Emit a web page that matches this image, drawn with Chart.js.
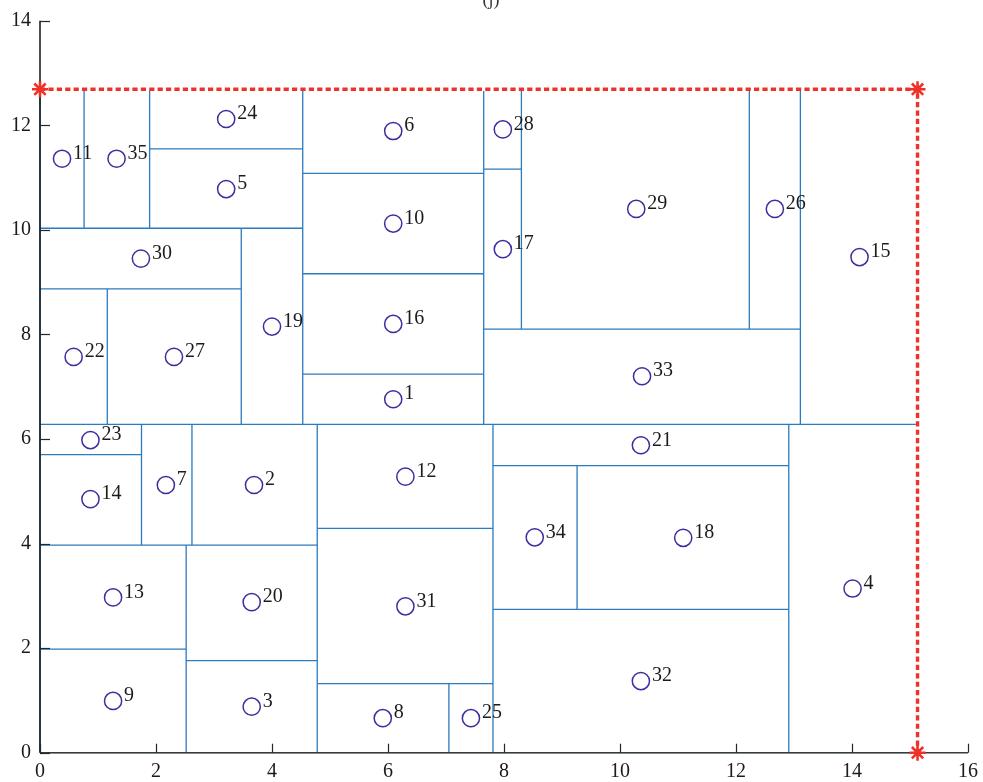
<!DOCTYPE html>
<html>
<head>
<meta charset="utf-8">
<script src="https://cdn.jsdelivr.net/npm/chart.js@4.4.1/dist/chart.umd.min.js"></script>
<style>
  html, body { margin: 0; padding: 0; background: #ffffff; overflow: hidden; }
  #wrap { width: 983px; height: 782px; position: relative; }
  #layout { display: block; width: 983px; height: 782px; }
</style>
</head>
<body>
<div id="wrap"><canvas id="layout" width="983" height="782"></canvas></div>
<script>
// Block numbers and their rectangles (x0..x1, y0..y1)
const blockIds = [1, 2, 3, 4, 5, 6, 7, 8, 9, 10, 11, 12, 13, 14, 15, 16, 17, 18, 19, 20,
                  21, 22, 23, 24, 25, 26, 27, 28, 29, 30, 31, 32, 33, 34, 35];
const blockX0 = [4.53, 2.62, 2.52, 12.91, 1.89, 4.53, 1.75, 4.78, 0, 4.53, 0, 4.78, 0, 0, 13.11, 4.53, 7.65, 9.26, 3.47, 2.52,
                 7.81, 0, 0, 1.89, 7.05, 12.23, 1.16, 7.65, 8.30, 0, 4.78, 7.81, 7.65, 7.81, 0.76];
const blockX1 = [7.65, 4.78, 4.78, 15.13, 4.53, 7.65, 2.62, 7.05, 2.52, 7.65, 0.76, 7.81, 2.52, 1.75, 15.13, 7.65, 8.30, 12.91, 4.53, 4.78,
                 12.91, 1.16, 1.75, 4.53, 7.81, 13.11, 3.47, 8.30, 12.23, 3.47, 7.81, 12.91, 13.11, 9.26, 1.89];
const blockY0 = [6.28, 3.97, 0, 0, 10.03, 11.08, 3.97, 0, 0, 9.16, 10.03, 4.29, 1.98, 3.97, 6.28, 7.24, 8.10, 2.74, 6.28, 1.76,
                 5.49, 6.28, 5.70, 11.55, 0, 8.10, 6.28, 11.16, 8.10, 8.87, 1.32, 0, 6.28, 2.74, 10.03];
const blockY1 = [7.24, 6.28, 1.76, 6.28, 11.55, 12.69, 6.28, 1.32, 1.98, 11.08, 12.69, 6.28, 3.97, 5.70, 12.69, 9.16, 11.16, 5.49, 10.03, 3.97,
                 6.28, 8.87, 6.28, 12.69, 1.32, 12.69, 8.87, 12.69, 12.69, 10.03, 4.29, 2.74, 8.10, 5.49, 12.69];

// Block centre markers
const centerX = [6.09, 3.69, 3.65, 14.01, 3.21, 6.09, 2.17, 5.91, 1.26, 6.09, 0.38, 6.30, 1.26, 0.87, 14.13, 6.09, 7.98, 11.09, 4.00, 3.65,
                 10.36, 0.58, 0.87, 3.21, 7.43, 12.67, 2.31, 7.98, 10.28, 1.74, 6.30, 10.36, 10.38, 8.53, 1.32];
const centerY = [6.76, 5.12, 0.88, 3.14, 10.78, 11.89, 5.12, 0.66, 0.99, 10.12, 11.36, 5.28, 2.97, 4.85, 9.48, 8.20, 9.63, 4.11, 8.15, 2.88,
                 5.88, 7.57, 5.98, 12.12, 0.66, 10.40, 7.57, 11.92, 10.40, 9.45, 2.80, 1.37, 7.20, 4.12, 11.36];

// Sheet boundary (used width / height)
const boundaryX = [0, 15.13, 15.13];
const boundaryY = [12.69, 12.69, 0];

const xTicks = [0, 2, 4, 6, 8, 10, 12, 14, 16];
const yTicks = [0, 2, 4, 6, 8, 10, 12, 14];

const serif = '"Liberation Serif", "DejaVu Serif", serif';
const blockBlue = '#2b7bc0';
const markerIndigo = '#3b2f9e';
const boundaryRed = '#ee3229';

// Rectangle outlines as one path broken by gaps
const outline = [];
blockIds.forEach((id, i) => {
  const x0 = blockX0[i], x1 = blockX1[i], y0 = blockY0[i], y1 = blockY1[i];
  outline.push({x: x0, y: y0}, {x: x1, y: y0}, {x: x1, y: y1}, {x: x0, y: y1}, {x: x0, y: y0});
  outline.push({x: x0, y: null});
});

const centers = centerX.map((x, i) => ({x: x, y: centerY[i]}));
const boundary = boundaryX.map((x, i) => ({x: x, y: boundaryY[i]}));

// Axis lines (drawn over the block outlines) with inward tick marks
function drawAxes(chart) {
  const {ctx, chartArea, scales} = chart;
  ctx.save();
  ctx.lineWidth = 1.5;
  ctx.strokeStyle = '#3a3a3a';
  ctx.beginPath();
  ctx.moveTo(chartArea.left, chartArea.bottom);
  ctx.lineTo(chartArea.right, chartArea.bottom);
  ctx.stroke();
  ctx.strokeStyle = '#111111';
  ctx.beginPath();
  ctx.moveTo(chartArea.left, chartArea.top);
  ctx.lineTo(chartArea.left, chartArea.bottom);
  ctx.stroke();
  ctx.lineWidth = 1.2;
  ctx.strokeStyle = '#262626';
  xTicks.forEach(v => {
    const px = Math.round(scales.x.getPixelForValue(v)) + 0.5;
    ctx.beginPath();
    ctx.moveTo(px, chartArea.bottom);
    ctx.lineTo(px, chartArea.bottom - 9);
    ctx.stroke();
  });
  yTicks.forEach(v => {
    const py = Math.round(scales.y.getPixelForValue(v)) + 0.5;
    ctx.beginPath();
    ctx.moveTo(chartArea.left, py);
    ctx.lineTo(chartArea.left + 10, py);
    ctx.stroke();
  });
  ctx.restore();
}

const axesOverBlocks = {
  id: 'axesOverBlocks',
  afterDatasetDraw(chart, args) {
    if (args.index === 3) drawAxes(chart);
  }
};

// Block number labels beside each marker, plus panel caption
const blockLabels = {
  id: 'blockLabels',
  afterDatasetsDraw(chart) {
    const {ctx} = chart;
    const meta = chart.getDatasetMeta(2);
    ctx.save();
    ctx.fillStyle = '#1c1a1b';
    ctx.font = '20px ' + serif;
    ctx.textAlign = 'left';
    ctx.textBaseline = 'middle';
    meta.data.forEach((pt, i) => {
      ctx.fillText(String(blockIds[i]), pt.x + 11, pt.y - 5);
    });
    ctx.textAlign = 'center';
    ctx.textBaseline = 'alphabetic';
    ctx.font = '18px ' + serif;
    ctx.fillStyle = '#333333';
    ctx.fillText('(j)', 491, 5);
    ctx.restore();
  }
};

new Chart(document.getElementById('layout'), {
  type: 'scatter',
  data: {
    datasets: [
      {
        label: 'boundary',
        data: boundary,
        showLine: true,
        borderColor: boundaryRed,
        borderWidth: 3.4,
        borderDash: [5.2, 3.2],
        pointStyle: 'star',
        pointRadius: 8,
        pointBorderWidth: 2.6,
        pointBorderColor: boundaryRed,
        pointBackgroundColor: boundaryRed,
        clip: false
      },
      {
        label: 'boundary base',
        data: boundary,
        showLine: true,
        borderColor: '#ffffff',
        borderWidth: 3.4,
        pointRadius: 0,
        clip: false
      },
      {
        label: 'centres',
        data: centers,
        showLine: false,
        pointStyle: 'circle',
        pointRadius: 8.6,
        pointBorderWidth: 1.5,
        pointBorderColor: markerIndigo,
        pointBackgroundColor: 'rgba(0,0,0,0)',
        clip: false
      },
      {
        label: 'blocks',
        data: outline,
        showLine: true,
        spanGaps: false,
        borderColor: blockBlue,
        borderWidth: 1.3,
        pointRadius: 0,
        clip: false
      }
    ]
  },
  options: {
    responsive: false,
    animation: false,
    devicePixelRatio: 1,
    layout: { padding: { top: 20.7, right: 15, left: 0, bottom: 0 } },
    plugins: {
      legend: { display: false },
      tooltip: { enabled: false },
      title: { display: false }
    },
    events: [],
    scales: {
      x: {
        type: 'linear',
        min: 0,
        max: 16,
        afterFit(scale) {
          scale.height = 29.3;
          scale.paddingLeft = 0;
          scale.paddingRight = 0;
        },
        afterBuildTicks(scale) { scale.ticks = xTicks.map(v => ({value: v})); },
        grid: { display: false, drawTicks: false },
        border: { display: false },
        ticks: { padding: 7, color: '#1c1a1b', font: { family: serif, size: 20 }, maxRotation: 0 }
      },
      y: {
        type: 'linear',
        min: 0,
        max: 14,
        afterFit(scale) {
          scale.width = 40;
          scale.paddingTop = 0;
          scale.paddingBottom = 0;
        },
        afterBuildTicks(scale) { scale.ticks = yTicks.map(v => ({value: v})); },
        grid: { display: false, drawTicks: false },
        border: { display: false },
        ticks: { padding: 9, color: '#1c1a1b', font: { family: serif, size: 20 } }
      }
    }
  },
  plugins: [axesOverBlocks, blockLabels]
});
</script>
</body>
</html>
